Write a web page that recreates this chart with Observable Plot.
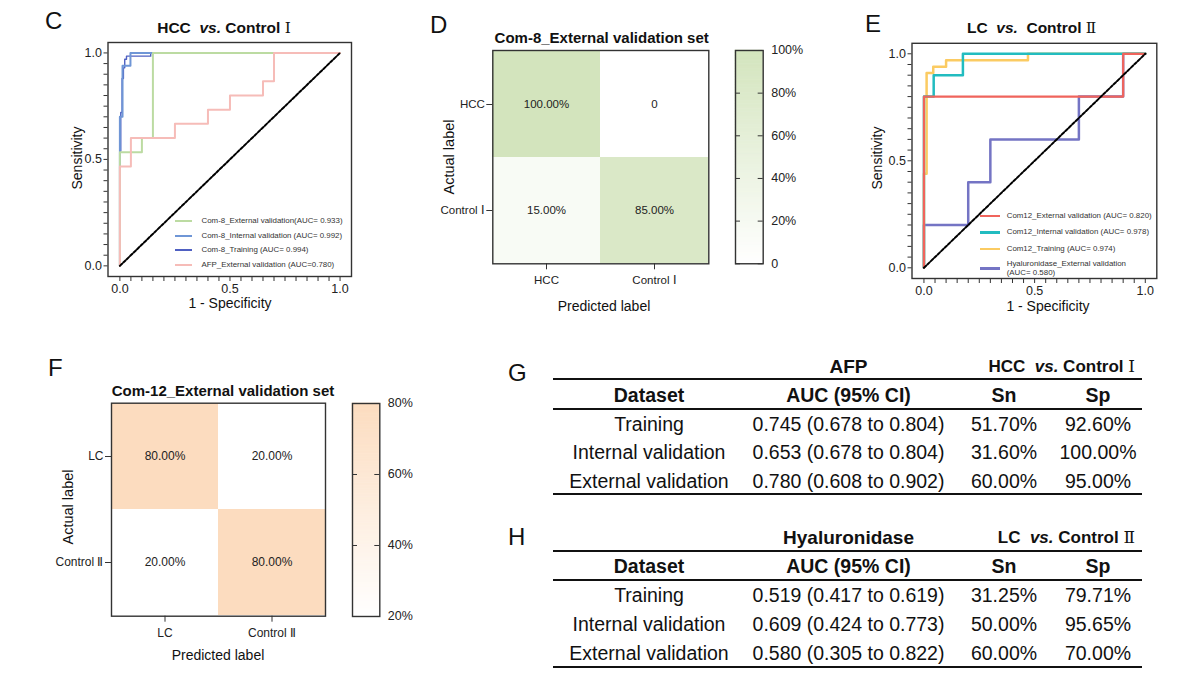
<!DOCTYPE html>
<html><head><meta charset="utf-8">
<script src="https://cdn.jsdelivr.net/npm/d3@7"></script>
<script src="https://cdn.jsdelivr.net/npm/@observablehq/plot@0.6"></script>
<style>
body{margin:0;background:#fff;}
#root{position:relative;width:1200px;height:697px;overflow:hidden;font-family:Arial,"Liberation Sans",Helvetica,sans-serif;color:#111;background:#fff;}
.rn{font-family:"DejaVu Serif","Liberation Serif","Times New Roman",serif;font-weight:normal;}
</style></head>
<body><div id="root"></div>
<script>
// ---------------- DATA ----------------
// Panel C: ROC curves, HCC vs. Control I  (points are [1-specificity, sensitivity])
const cLabels = ["Com-8_External validation(AUC= 0.933)", "Com-8_Internal validation (AUC= 0.992)", "Com-8_Training (AUC= 0.994)", "AFP_External validation (AUC=0.780)"];
const cColors = ["#bcdba2", "#6f96d6", "#4f60c2", "#f6bcb8"];
const com8External = [[0,0],[0,0.533],[0.1,0.533],[0.1,0.6],[0.15,0.6],[0.15,1],[1,1]];
const com8Internal = [[0,0],[0,0.7],[0.012,0.7],[0.012,0.94],[0.048,0.94],[0.048,1],[1,1]];
const com8Training = [[0,0],[0,0.54],[0.004,0.54],[0.004,0.72],[0.01,0.72],[0.01,0.88],[0.016,0.88],[0.016,0.93],[0.022,0.93],[0.022,0.97],[0.03,0.97],[0.03,0.985],[0.14,0.985],[0.14,1],[1,1]];
const afpExternal = [[0,0],[0,0.467],[0.05,0.467],[0.05,0.6],[0.25,0.6],[0.25,0.667],[0.4,0.667],[0.4,0.733],[0.5,0.733],[0.5,0.8],[0.65,0.8],[0.65,0.867],[0.7,0.867],[0.7,1],[1,1]];

// Panel E: ROC curves, LC vs. Control II
const eLabels = ["Com12_External validation (AUC= 0.820)", "Com12_Internal validation (AUC= 0.978)", "Com12_Training (AUC= 0.974)", "Hyaluronidase_External validation", "(AUC= 0.580)"];
const eColors = ["#f0645c", "#22bcc0", "#fbcb62", "#7474c4"];
const com12External = [[0,0],[0,0.8],[0.9,0.8],[0.9,1],[1,1]];
const com12Internal = [[0,0],[0,0.8],[0.044,0.8],[0.044,0.9],[0.176,0.9],[0.176,1],[1,1]];
const com12Training = [[0,0],[0,0.44],[0.012,0.44],[0.012,0.91],[0.042,0.91],[0.042,0.94],[0.1,0.94],[0.1,0.97],[0.47,0.97],[0.47,1],[1,1]];
const hyalExternal = [[0,0],[0,0.2],[0.2,0.2],[0.2,0.4],[0.3,0.4],[0.3,0.6],[0.7,0.6],[0.7,0.8],[0.9,0.8],[0.9,1],[1,1]];
const chanceLine = [[0,0],[1,1]];
const rocMajorTicks = [0, 0.5, 1];
const rocMinorTicks = d3.range(0, 21).map(i => i / 20);

// Panel D: confusion matrix (rows = actual, cols = predicted)
const dClasses = ["HCC", "Control Ⅰ"];
const dValues = [1.00, 0.00, 0.15, 0.85];
const dColorTicks = [0, 0.2, 0.4, 0.6, 0.8, 1.0];
// Panel F
const fClasses = ["LC", "Control Ⅱ"];
const fValues = [0.80, 0.20, 0.20, 0.80];
const fColorTicks = [0.2, 0.4, 0.6, 0.8];

// Panel G table
const gDatasets = ["Training", "Internal validation", "External validation"];
const gAUC = ["0.745 (0.678 to 0.804)", "0.653 (0.678 to 0.804)", "0.780 (0.608 to 0.902)"];
const gSn = ["51.70%", "31.60%", "60.00%"];
const gSp = ["92.60%", "100.00%", "95.00%"];
// Panel H table
const hDatasets = ["Training", "Internal validation", "External validation"];
const hAUC = ["0.519 (0.417 to 0.619)", "0.609 (0.424 to 0.773)", "0.580 (0.305 to 0.822)"];
const hSn = ["31.25%", "50.00%", "60.00%"];
const hSp = ["79.71%", "95.65%", "70.00%"];
const tableHeaders = ["Dataset", "AUC (95% CI)", "Sn", "Sp"];

// ---------------- HELPERS ----------------
const FONT = 'Arial, "Liberation Sans", Helvetica, sans-serif';
const root = document.getElementById("root");
function put(node, left, top) {
  node.style.position = "absolute"; node.style.left = left + "px"; node.style.top = top + "px";
  root.appendChild(node);
}
function label(html, x, baseline, size, {anchor = "start", weight = "normal", color = "#111"} = {}) {
  const d = document.createElement("div");
  d.innerHTML = html;
  d.style.cssText = `position:absolute;white-space:nowrap;font-size:${size}px;line-height:${size}px;font-weight:${weight};color:${color};`;
  d.style.left = x + "px";
  d.style.top = (baseline - 0.8465 * size) + "px";
  d.style.transform = `translateX(${anchor === "middle" ? "-50%" : anchor === "end" ? "-100%" : "0"})`;
  root.appendChild(d);
}
function clabel(html, x, cy, size, opts) { label(html, x, cy + 0.36 * size, size, opts); }
function vlabel(html, cx, cy, size) {
  const d = document.createElement("div");
  d.innerHTML = html;
  d.style.cssText = `position:absolute;white-space:nowrap;font-size:${size}px;line-height:${size}px;color:#111;left:${cx}px;top:${cy}px;transform:translate(-50%,-50%) rotate(-90deg);`;
  root.appendChild(d);
}
function swatch(color, x, cy, w, thick) {
  const d = document.createElement("div");
  d.style.cssText = `position:absolute;left:${x}px;top:${cy - thick / 2}px;width:${w}px;height:${thick}px;background:${color};`;
  root.appendChild(d);
}
function hrule(x, y, w, thick) {
  const d = document.createElement("div");
  d.style.cssText = `position:absolute;left:${x}px;top:${y - thick / 2}px;width:${w}px;height:${thick}px;background:#111;`;
  root.appendChild(d);
}
const plotStyle = {fontFamily: FONT, fontSize: "12.5px", color: "#222", background: "transparent", overflow: "visible"};

function rocPlot(series, {width, height, mL, mR, mT, mB}) {
  const isMajor = d => rocMajorTicks.some(m => Math.abs(m - d) < 1e-9);
  return Plot.plot({
    width, height, marginLeft: mL, marginRight: mR, marginTop: mT, marginBottom: mB,
    x: {domain: [-0.054, 1.052]},
    y: {domain: [-0.05, 1.049]},
    style: plotStyle,
    marks: [
      ...series.map(s => Plot.line(s.data, {x: d => d[0], y: d => d[1], stroke: s.color, strokeWidth: s.width})),
      Plot.line(chanceLine, {x: d => d[0], y: d => d[1], stroke: "#000", strokeWidth: 2, strokeDasharray: "3,1.8"}),
      Plot.frame({stroke: "#333", strokeWidth: 1.4}),
      Plot.axisX({ticks: rocMinorTicks, tickSize: 5, tickPadding: 3, tickFormat: d => isMajor(d) ? d.toFixed(1) : "", label: null, stroke: "#333"}),
      Plot.axisY({ticks: rocMinorTicks, tickSize: 4, tickPadding: 2, tickFormat: d => isMajor(d) ? d.toFixed(1) : "", label: null, stroke: "#333"})
    ]
  });
}

function confusion(classes, values, color, {width, height, mL, mR, mT, mB, fontSize}) {
  const cells = classes.flatMap((a, i) => classes.map((p, j) => ({actual: a, pred: p, value: values[i * classes.length + j]})));
  return Plot.plot({
    width, height, marginLeft: mL, marginRight: mR, marginTop: mT, marginBottom: mB,
    x: {domain: classes, padding: 0},
    y: {domain: classes, padding: 0},
    color,
    style: {...plotStyle, fontSize: fontSize + "px"},
    marks: [
      Plot.cell(cells, {x: "pred", y: "actual", fill: "value"}),
      Plot.text(cells, {x: "pred", y: "actual", text: d => d.value === 0 ? "0" : (d.value * 100).toFixed(2) + "%", fill: "#222", fontSize: fontSize}),
      Plot.frame({stroke: "#333", strokeWidth: 1.4}),
      Plot.axisX({tickSize: 6, tickPadding: 6, label: null, stroke: "#333"}),
      Plot.axisY({tickSize: 6, tickPadding: 2, label: null, stroke: "#333"})
    ]
  });
}

function colorbar(color, ticks, fmt, {w, h}) {
  const [lo, hi] = color.domain;
  const n = 80;
  const steps = d3.range(n).map(i => [lo + (hi - lo) * i / n, lo + (hi - lo) * (i + 1) / n]);
  const W = w + 70;
  return Plot.plot({
    width: W, height: h + 20, marginLeft: 10, marginRight: W - 10 - w, marginTop: 10, marginBottom: 10,
    y: {domain: [lo, hi]},
    color,
    style: plotStyle,
    marks: [
      Plot.rect(steps, {y1: d => d[0], y2: d => d[1], fill: d => (d[0] + d[1]) / 2, stroke: d => (d[0] + d[1]) / 2, strokeWidth: 0.6}),
      Plot.tickY(ticks, {y: d => d, insetRight: w - 5, stroke: "#333"}),
      Plot.tickY(ticks, {y: d => d, insetLeft: w - 5, stroke: "#333"}),
      Plot.frame({stroke: "#333", strokeWidth: 1.4}),
      Plot.axisY({anchor: "right", ticks, tickSize: 0, tickPadding: 8, tickFormat: fmt, label: null})
    ]
  });
}

// ---------------- PANEL C ----------------
put(rocPlot([
  {data: com8Training, color: cColors[2], width: 1.4},
  {data: com8Internal, color: cColors[1], width: 2},
  {data: com8External, color: cColors[0], width: 2},
  {data: afpExternal, color: cColors[3], width: 2}
], {width: 330, height: 320, mL: 67.5, mR: 19, mT: 42, mB: 44}), 40, 0);
label("C", 45, 29, 24);
label('HCC&nbsp; <i>vs.</i> Control <span class="rn">Ⅰ</span>', 224, 33.5, 15.5, {anchor: "middle", weight: "bold"});
vlabel("Sensitivity", 77, 158, 14);
label("1 - Specificity", 230, 308, 14, {anchor: "middle"});
[220.7, 235.7, 250.3, 265].forEach((cy, i) => {
  swatch(cColors[i], 175, cy, 17, 2);
  clabel(cLabels[i], 201.5, cy, 7.9, {color: "#333"});
});

// ---------------- PANEL E ----------------
put(rocPlot([
  {data: hyalExternal, color: eColors[3], width: 2.5},
  {data: com12Training, color: eColors[2], width: 2.5},
  {data: com12Internal, color: eColors[1], width: 2.5},
  {data: com12External, color: eColors[0], width: 2.2}
], {width: 340, height: 320, mL: 71.5, mR: 23.7, mT: 42.8, mB: 42}), 840, 0);
label("E", 865, 32, 24);
label('LC&nbsp; <i>vs.</i>&nbsp; Control <span class="rn">Ⅱ</span>', 1031.7, 33.5, 15.5, {anchor: "middle", weight: "bold"});
vlabel("Sensitivity", 877, 158, 14);
label("1 - Specificity", 1048, 311, 14, {anchor: "middle"});
[216, 232.3, 249].forEach((cy, i) => {
  swatch(eColors[i], 980, cy, 20, 2.5);
  clabel(eLabels[i], 1006.7, cy, 7.9, {color: "#333"});
});
swatch(eColors[3], 980, 268.5, 20, 2.5);
clabel(eLabels[3], 1006.7, 264.3, 7.9, {color: "#333"});
clabel(eLabels[4], 1006.7, 272.9, 7.9, {color: "#333"});

// ---------------- PANEL D ----------------
const dColor = {type: "linear", domain: [0, 1], range: ["#ffffff", "#d3e4bd"]};
put(confusion(dClasses, dValues, dColor, {width: 400, height: 320, mL: 92.3, mR: 91.7, mT: 50, mB: 56.7, fontSize: 11.5}), 400, 0);
put(colorbar(dColor, dColorTicks, d => d === 0 ? "0" : Math.round(d * 100) + "%", {w: 27.7, h: 213.3}), 725, 40);
label("D", 430, 33, 24);
label("Com-8_External validation set", 601.7, 42.5, 15, {anchor: "middle", weight: "bold"});
vlabel("Actual label", 449, 157, 14.5);
label("Predicted label", 604, 311, 14, {anchor: "middle"});

// ---------------- PANEL F ----------------
const fColor = {type: "linear", domain: [0.2, 0.8], range: ["#ffffff", "#fcdcbf"]};
put(confusion(fClasses, fValues, fColor, {width: 300, height: 330, mL: 71, mR: 15, mT: 52.7, mB: 64.3, fontSize: 12}), 40, 350);
put(colorbar(fColor, fColorTicks, d => Math.round(d * 100) + "%", {w: 27.3, h: 213}), 341.7, 392.7);
label("F", 48, 376, 24);
label("Com-12_External validation set", 223, 395.5, 15, {anchor: "middle", weight: "bold"});
vlabel("Actual label", 68, 507, 14.5);
label("Predicted label", 218, 660, 14, {anchor: "middle"});

// ---------------- TABLES G / H ----------------
const colX = [649, 848.5, 1004, 1098];
function table(letterTxt, marker, group, cols, y) {
  label(letterTxt, 508, y.letter, 24);
  clabel(marker, colX[1], y.title, 19, {anchor: "middle", weight: "bold"});
  clabel(group, 1135, y.title, 17, {anchor: "end", weight: "bold"});
  hrule(553, y.r1, 589, 2.5);
  tableHeaders.forEach((h, i) => clabel(h, colX[i], y.header, 19.5, {anchor: "middle", weight: "bold"}));
  hrule(553, y.r2, 589, 2);
  y.rows.forEach((ry, r) => cols.forEach((c, i) => clabel(c[r], colX[i], ry, 19.5, {anchor: "middle"})));
  hrule(553, y.r3, 589, 2.5);
}
table("G", "AFP", 'HCC&nbsp; <i>vs.</i> Control <span class="rn">Ⅰ</span>', [gDatasets, gAUC, gSn, gSp],
  {letter: 381, title: 366, r1: 379, header: 395, r2: 409, rows: [424, 452.5, 481], r3: 494});
table("H", "Hyaluronidase", 'LC&nbsp; <i>vs.</i> Control <span class="rn">Ⅱ</span>', [hDatasets, hAUC, hSn, hSp],
  {letter: 545, title: 537, r1: 551, header: 566, r2: 580, rows: [595, 624, 653], r3: 667});
</script>
</body></html>
